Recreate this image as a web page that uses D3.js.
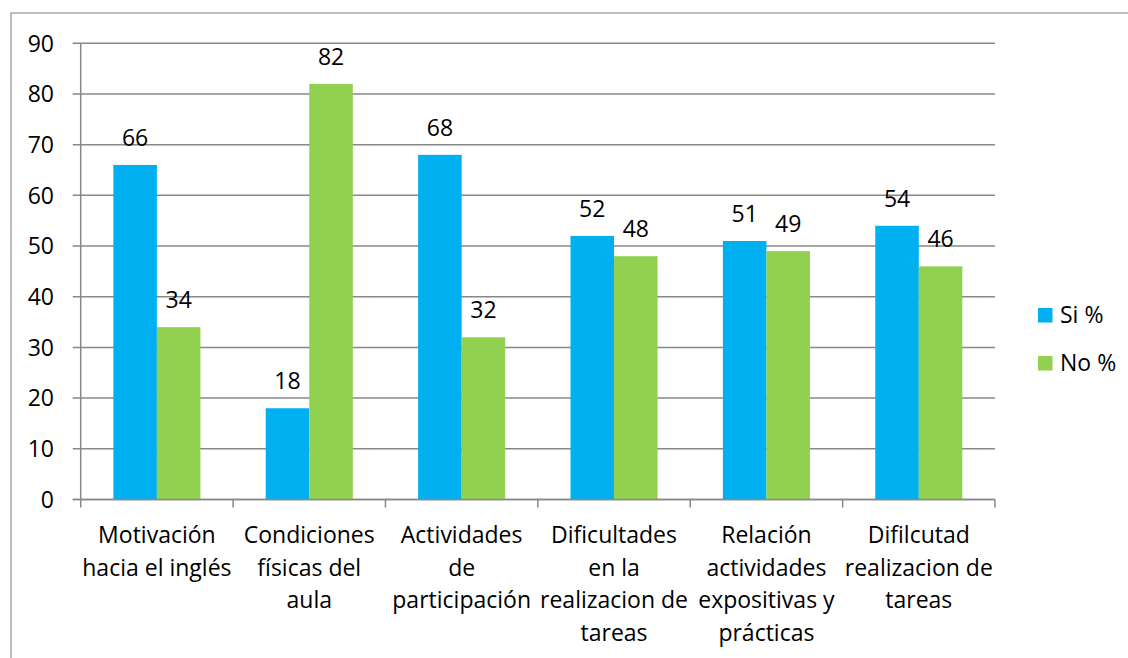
<!DOCTYPE html>
<html>
<head>
<meta charset="utf-8">
<script src="https://cdn.jsdelivr.net/npm/d3@7"></script>
<style>
  body { margin: 0; background: #fff; }
  svg { display: block; font-family: "Open Sans", sans-serif; }
</style>
</head>
<body>
<svg id="chart"></svg>
<script>
// data
var categories = [
    ["Motivación", "hacia el inglés"],
    ["Condiciones", "físicas del", "aula"],
    ["Actividades", "de", "participación"],
    ["Dificultades", "en la", "realizacion de", "tareas"],
    ["Relación", "actividades", "expositivas y", "prácticas"],
    ["Difilcutad", "realizacion de", "tareas"]
]
var seriesNames = ["Si %", "No %"]
var siValues = [66, 18, 68, 52, 51, 54]
var noValues = [34, 82, 32, 48, 49, 46]
var yTicks = [0, 10, 20, 30, 40, 50, 60, 70, 80, 90]

//drawing style
var colors = ["#00B0F0", "#92D050"]
var gridColor = "#888888"
var borderColor = "#A6A6A6"
var fontSize = 23

var width = 1128, height = 658
var svg = d3.select("#chart").attr("width", width).attr("height", height)

var plot = { left: 80.7, right: 995, top: 43.3, bottom: 499.5 }

//outer border (runs off the page right and bottom)
svg.append("rect")
   .attr("x", 11).attr("y", 13)
   .attr("width", 1200).attr("height", 700)
   .attr("fill", "none")
   .attr("stroke", borderColor)
   .attr("stroke-width", 1.5)

//scales
var keys = categories.map((d, i) => i)
var x = d3.scaleBand().domain(keys).range([plot.left, plot.right]).padding(0)
var xInner = d3.scaleBand().domain(seriesNames).range([0, x.bandwidth()])
               .paddingInner(0).paddingOuter(0.75)
var y = d3.scaleLinear().domain([0, 90]).range([plot.bottom, plot.top])

//gridlines
svg.append("g")
   .selectAll("line")
   .data(yTicks)
   .enter()
   .append("line")
   .attr("x1", plot.left - 8)
   .attr("x2", plot.right)
   .attr("y1", d => y(d))
   .attr("y2", d => y(d))
   .attr("stroke", gridColor)
   .attr("stroke-width", 1.5)

//y axis line
svg.append("line")
   .attr("x1", plot.left).attr("x2", plot.left)
   .attr("y1", plot.top).attr("y2", plot.bottom)
   .attr("stroke", gridColor).attr("stroke-width", 1.5)

//y tick labels
svg.append("g")
   .selectAll("text")
   .data(yTicks)
   .enter()
   .append("text")
   .attr("x", 54)
   .attr("y", d => y(d))
   .attr("dy", "0.36em")
   .attr("text-anchor", "end")
   .attr("font-size", fontSize)
   .attr("fill", "#000")
   .text(d => d)

//bars
var rows = keys.map(i => ({ i: i, values: [siValues[i], noValues[i]] }))
var groups = svg.append("g")
   .selectAll("g")
   .data(rows)
   .enter()
   .append("g")
   .attr("transform", d => `translate(${x(d.i)},0)`)

groups.selectAll("rect")
   .data(d => d.values.map((v, k) => ({ name: seriesNames[k], value: v, k: k })))
   .enter()
   .append("rect")
   .attr("x", d => xInner(d.name))
   .attr("width", xInner.bandwidth())
   .attr("y", d => y(d.value))
   .attr("height", d => y(0) - y(d.value))
   .attr("fill", d => colors[d.k])

//value labels
groups.selectAll("text")
   .data(d => d.values.map((v, k) => ({ name: seriesNames[k], value: v })))
   .enter()
   .append("text")
   .attr("x", d => xInner(d.name) + xInner.bandwidth() / 2)
   .attr("y", d => y(d.value) - 19)
   .attr("text-anchor", "middle")
   .attr("font-size", fontSize)
   .attr("fill", "#000")
   .text(d => d.value)

//x axis line and ticks
svg.append("line")
   .attr("x1", plot.left - 8).attr("x2", plot.right)
   .attr("y1", plot.bottom).attr("y2", plot.bottom)
   .attr("stroke", gridColor).attr("stroke-width", 1.5)

var boundaries = keys.map(i => x(i)).concat([plot.right])
svg.append("g")
   .selectAll("line")
   .data(boundaries)
   .enter()
   .append("line")
   .attr("x1", d => d).attr("x2", d => d)
   .attr("y1", plot.bottom).attr("y2", plot.bottom + 8)
   .attr("stroke", gridColor).attr("stroke-width", 1.5)

//category labels
var catLabels = svg.append("g")
   .selectAll("text")
   .data(keys)
   .enter()
   .append("text")
   .attr("text-anchor", "middle")
   .attr("font-size", fontSize)
   .attr("fill", "#000")

catLabels.selectAll("tspan")
   .data(i => categories[i].map(line => ({ i: i, line: line })))
   .enter()
   .append("tspan")
   .attr("x", d => x(d.i) + x.bandwidth() / 2)
   .attr("y", (d, j) => 543 + j * 32.5)
   .text(d => d.line)

//legend
var legend = svg.append("g")
   .selectAll("g")
   .data(seriesNames)
   .enter()
   .append("g")
   .attr("transform", (d, k) => `translate(1038,${308 + k * 48})`)

legend.append("rect")
   .attr("width", 14.5).attr("height", 14.5)
   .attr("fill", (d, k) => colors[k])

legend.append("text")
   .attr("x", 22)
   .attr("y", 15)
   .attr("font-size", fontSize)
   .attr("fill", "#000")
   .text(d => d)
</script>
</body>
</html>
